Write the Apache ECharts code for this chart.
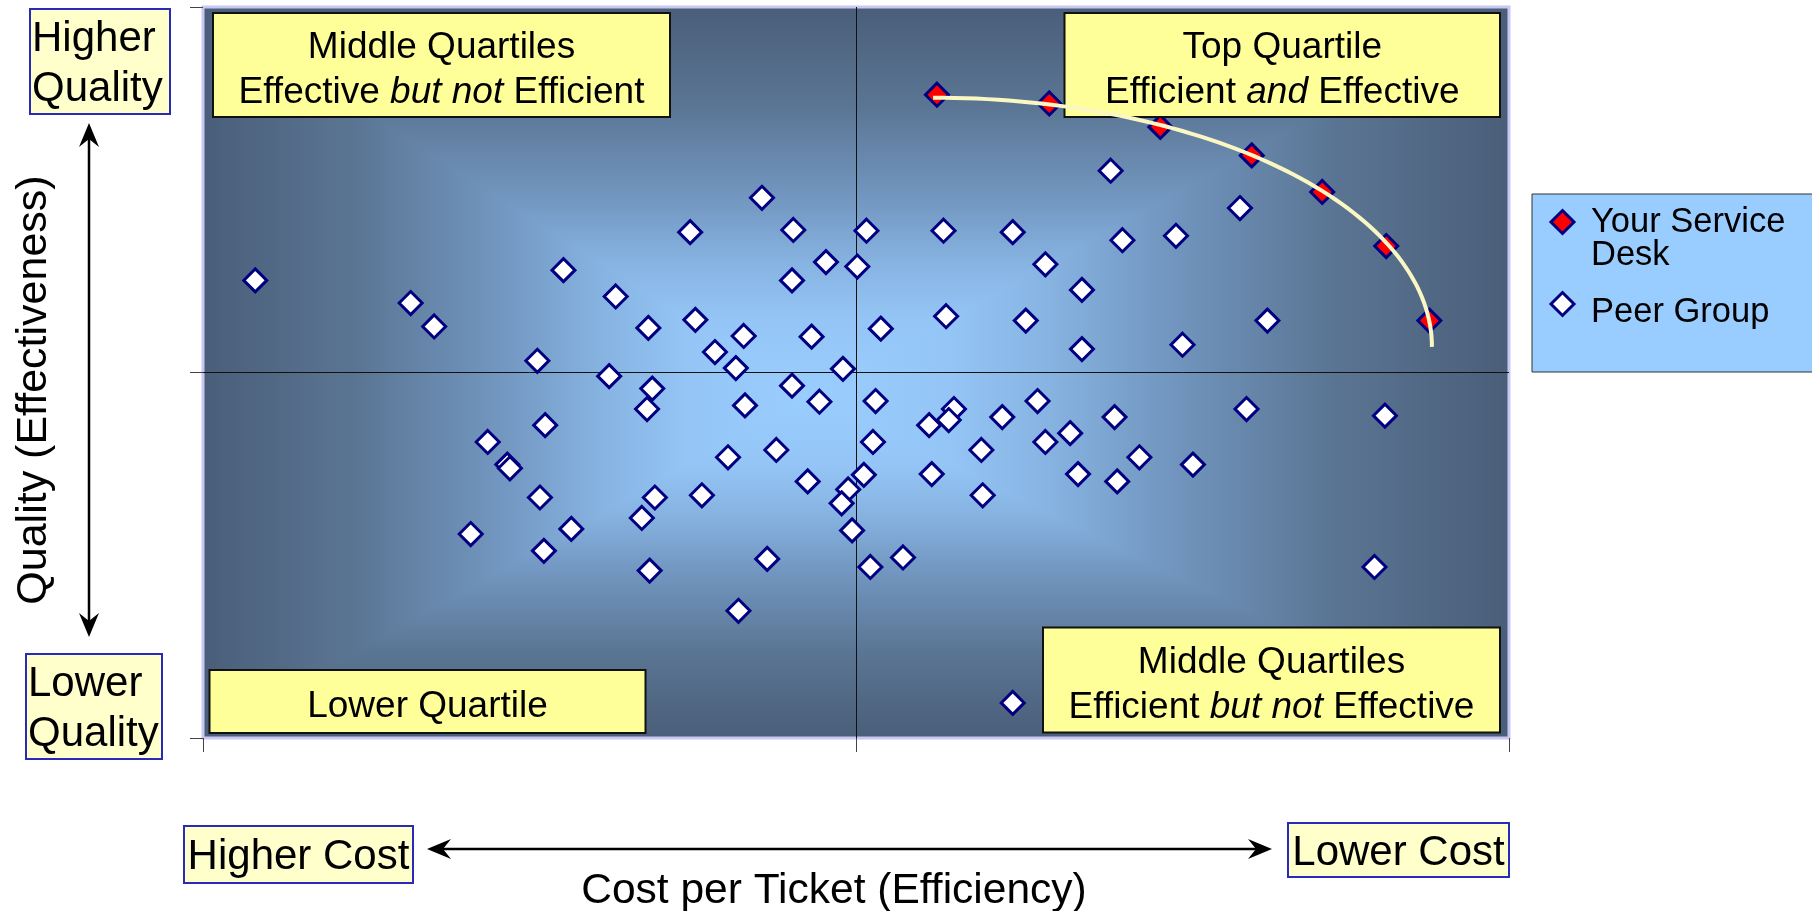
<!DOCTYPE html>
<html>
<head>
<meta charset="utf-8">
<title>Service Desk Benchmark: Cost vs Quality</title>
<script src="https://cdn.jsdelivr.net/npm/echarts@6/dist/echarts.min.js"></script>
<style>
  html, body { margin: 0; padding: 0; background: #ffffff; }
  #chart { width: 1812px; height: 911px; }
</style>
</head>
<body>
<div id="chart"></div>
<script>
// Cost per ticket (efficiency, 0 = higher cost .. 100 = lower cost) and
// quality (effectiveness, 0 = lower .. 100 = higher) for each service desk.
const peerX = [4.0, 15.9, 17.7, 27.6, 31.6, 25.6, 31.1, 26.2, 21.8, 23.3, 23.5, 25.8, 20.5, 28.2, 26.1,
  37.3, 34.1, 34.4, 34.0, 33.6, 34.6, 34.2, 37.7, 39.2, 40.8, 41.4, 41.5, 40.2, 38.2,
  42.8, 45.2, 45.1, 47.7, 46.6, 45.1, 47.2, 43.9, 46.3, 43.2, 41.0,
  49.0, 50.1, 50.8, 51.9, 51.5, 51.3, 50.6, 49.4, 48.9, 49.7, 51.1, 53.6,
  56.7, 56.9, 55.6, 57.5, 57.1, 55.8, 59.6, 59.7, 61.2, 62.0, 63.0, 63.9, 64.5, 64.5,
  66.4, 67.3, 67.3, 67.0, 69.5, 70.4, 74.5, 69.8, 71.7, 70.0, 75.0, 75.8,
  79.4, 81.5, 79.9, 90.5, 89.7, 62.0];
const peerY = [62.6, 59.5, 56.3, 64.0, 60.4, 51.6, 49.5, 42.8, 40.5, 37.4, 36.9, 32.9, 27.9, 28.6, 25.6,
  69.2, 56.1, 47.8, 45.0, 30.1, 32.9, 22.9, 57.2, 52.8, 50.6, 55.0, 45.5, 38.4, 33.2,
  73.9, 69.5, 62.6, 65.1, 54.9, 48.2, 46.0, 39.4, 35.1, 24.5, 17.4,
  50.5, 64.5, 69.4, 56.0, 46.1, 40.5, 36.0, 34.0, 32.1, 28.4, 23.4, 24.7,
  69.4, 57.7, 42.8, 45.0, 43.5, 36.1, 39.4, 33.2, 43.9, 69.2, 57.1, 46.1, 64.8, 40.5,
  41.7, 61.3, 53.2, 36.1, 77.6, 68.1, 68.7, 43.9, 38.4, 35.1, 53.8, 37.4,
  72.5, 57.1, 45.0, 44.1, 23.4, 4.8];

// "Your Service Desk" results over successive periods
const deskX = [56.2, 64.8, 73.3, 80.3, 85.7, 90.6, 93.9];
const deskY = [88.0, 86.8, 83.6, 79.7, 74.7, 67.3, 57.1];

// Frontier arc: starts level at the top, ends vertical on the right
const arcStart = [55.9, 87.6];
const arcEnd = [94.1, 53.5];

// Quartile split positions on both axes
const axisMin = 0, axisMax = 100, axisStep = 50;

const seriesNames = ['Your Service Desk', 'Peer Group'];

const F = "'Liberation Sans', Arial, Helvetica, sans-serif";

// Grid geometry in pixels
const G = { left: 203, top: 7, width: 1306, height: 731 };

// Rectangular "from centre" gradient for the plot background
function makeBackdrop(w, h, cx, cy) {
  const c = document.createElement('canvas');
  c.width = w; c.height = h;
  const g = c.getContext('2d');
  const stops = [[0, '#4a5e79'], [0.25, '#5a7593'], [0.5, '#7398c2'], [0.65, '#86b2e0'], [0.8, '#94c5f6'], [1, '#9acdff']];
  function grad(x0, y0, x1, y1) {
    const lg = g.createLinearGradient(x0, y0, x1, y1);
    stops.forEach(s => lg.addColorStop(s[0], s[1]));
    return lg;
  }
  g.fillStyle = grad(0, 0, cx, 0);
  g.fillRect(0, 0, cx + 1, h);
  g.fillStyle = grad(w, 0, cx, 0);
  g.fillRect(cx, 0, w - cx, h);
  g.fillStyle = grad(0, 0, 0, cy);
  g.beginPath(); g.moveTo(0, 0); g.lineTo(w, 0); g.lineTo(cx, cy); g.closePath(); g.fill();
  g.fillStyle = grad(0, h, 0, cy);
  g.beginPath(); g.moveTo(0, h); g.lineTo(w, h); g.lineTo(cx, cy); g.closePath(); g.fill();
  return c;
}

function arrowHead(tx, ty, dx, dy) {
  // barbed head with its tip at (tx, ty), pointing along (dx, dy)
  const L = 24, W = 10, N = 16;
  const px = -dy, py = dx;
  return {
    type: 'polygon', z: 7, silent: true,
    shape: { points: [
      [tx, ty],
      [tx - dx * L + px * W, ty - dy * L + py * W],
      [tx - dx * N, ty - dy * N],
      [tx - dx * L - px * W, ty - dy * L - py * W]
    ] },
    style: { fill: '#000' }
  };
}

const richBox = {
  n: { fontSize: 37, fontFamily: F, lineHeight: 45, fill: '#000' },
  i: { fontSize: 37, fontFamily: F, fontStyle: 'italic', lineHeight: 45, fill: '#000' }
};

function quadBox(x, y, w, h, text) {
  return [
    { type: 'rect', z: 5, silent: true, shape: { x: x, y: y, width: w, height: h },
      style: { fill: '#ffff99', stroke: '#111', lineWidth: 2 } },
    { type: 'text', z: 6, silent: true, x: x + w / 2, y: y + h / 2 + 5.5,
      style: { text: text, align: 'center', verticalAlign: 'middle', fill: '#000',
        fontSize: 37, fontFamily: F, lineHeight: 45, rich: richBox } }
  ];
}

function sideBox(x, y, w, h, text, align) {
  return [
    { type: 'rect', z: 5, silent: true, shape: { x: x, y: y, width: w, height: h },
      style: { fill: '#ffffcc', stroke: '#2a2ab8', lineWidth: 2 } },
    { type: 'text', z: 6, silent: true,
      x: align === 'left' ? x + 2 : x + w / 2, y: y + h / 2 + 3,
      style: { text: text, align: align, verticalAlign: 'middle', fill: '#000',
        fontSize: 42, fontFamily: F, lineHeight: 50 } }
  ];
}

const backdrop = makeBackdrop(G.width, G.height, 607, 390);

const graphics = [
  { type: 'image', z: -10, silent: true,
    style: { image: backdrop, x: G.left, y: G.top, width: G.width, height: G.height } },
  ...quadBox(213, 13, 457, 104, '{n|Middle Quartiles}\n{n|Effective }{i|but not}{n| Efficient}'),
  ...quadBox(1064.5, 13, 435.5, 104, '{n|Top Quartile}\n{n|Efficient }{i|and}{n| Effective}'),
  ...quadBox(209.5, 670, 436, 63, '{n|Lower Quartile}'),
  ...quadBox(1043, 627.5, 457, 105, '{n|Middle Quartiles}\n{n|Efficient }{i|but not}{n| Effective}'),
  ...sideBox(30, 9, 140, 105, 'Higher\nQuality', 'left'),
  ...sideBox(26, 654, 136, 105, 'Lower\nQuality', 'left'),
  ...sideBox(184, 826, 229, 57, 'Higher Cost', 'center'),
  ...sideBox(1288, 823, 221, 54, 'Lower Cost', 'center'),
  // quality axis arrow
  { type: 'line', z: 7, silent: true, shape: { x1: 89, y1: 135, x2: 89, y2: 625 },
    style: { stroke: '#000', lineWidth: 2.5 } },
  arrowHead(89, 123, 0, -1),
  arrowHead(89, 637, 0, 1),
  // cost axis arrow
  { type: 'line', z: 7, silent: true, shape: { x1: 439, y1: 849, x2: 1260, y2: 849 },
    style: { stroke: '#000', lineWidth: 2.5 } },
  arrowHead(427, 849, -1, 0),
  arrowHead(1272, 849, 1, 0),
  { type: 'text', z: 6, silent: true, x: 34, y: 390, rotation: Math.PI / 2,
    style: { text: 'Quality (Effectiveness)', align: 'center', verticalAlign: 'middle',
      fill: '#000', fontSize: 43, fontFamily: F } },
  { type: 'text', z: 6, silent: true, x: 834, y: 891,
    style: { text: 'Cost per Ticket (Efficiency)', align: 'center', verticalAlign: 'middle',
      fill: '#000', fontSize: 42.5, fontFamily: F } },
  // legend panel
  { type: 'rect', z: 1, silent: true, shape: { x: 1532, y: 194, width: 290, height: 178 },
    style: { fill: '#99ccff', stroke: '#333', lineWidth: 1 } }
];

function axisCfg(tickLen) {
  return {
    type: 'value', min: axisMin, max: axisMax, interval: axisStep,
    axisLine: { show: false },
    axisTick: { show: true, length: tickLen, lineStyle: { color: '#444', width: 1 } },
    axisLabel: { show: false },
    splitLine: { show: true, showMinLine: false, showMaxLine: false,
      lineStyle: { color: '#111', width: 1 } }
  };
}

const chart = echarts.init(document.getElementById('chart'), null, { renderer: 'canvas' });

chart.setOption({
  animation: false,
  backgroundColor: '#ffffff',
  grid: { left: G.left, top: G.top, width: G.width, height: G.height,
    show: true, backgroundColor: 'transparent', borderColor: '#c8c8f0', borderWidth: 3 },
  xAxis: axisCfg(14),
  yAxis: axisCfg(13),
  legend: {
    orient: 'vertical', left: 1549.5, top: 171.5, padding: 0,
    itemWidth: 23, itemHeight: 23, itemGap: 2.5,
    selectedMode: false, z: 10,
    data: seriesNames,
    formatter: function (name) {
      return name === seriesNames[0] ? '\n{q|Your Service}\n{d|Desk}' : '{p|' + name + '}';
    },
    textStyle: {
      fontSize: 34.5, lineHeight: 33, fontFamily: F, color: '#000', padding: [0, 0, 0, 12],
      rich: {
        q: { fontSize: 34.5, lineHeight: 33, fontFamily: F, color: '#000' },
        d: { fontSize: 34.5, lineHeight: 33, fontFamily: F, color: '#000', padding: [3.5, 0, 3.5, 0] },
        p: { fontSize: 34.5, lineHeight: 33, fontFamily: F, color: '#000', padding: [16, 0, 0, 0] }
      }
    },
    itemStyle: { borderWidth: 3 }
  },
  graphic: { elements: graphics },
  series: [
    {
      type: 'scatter', name: seriesNames[1], z: 3,
      data: peerX.map((x, i) => [x, peerY[i]]),
      symbol: 'diamond', symbolSize: 23,
      itemStyle: { color: '#ffffff', borderColor: '#000080', borderWidth: 3, opacity: 1 }
    },
    {
      type: 'scatter', name: seriesNames[0], z: 4,
      data: deskX.map((x, i) => [x, deskY[i]]),
      symbol: 'diamond', symbolSize: 23,
      itemStyle: { color: '#ff0000', borderColor: '#000080', borderWidth: 3, opacity: 1 }
    },
    {
      type: 'custom', name: 'Frontier', z: 8, silent: true, clip: false,
      data: [[arcStart[0], arcStart[1], arcEnd[0], arcEnd[1]]],
      renderItem: function (params, api) {
        const p0 = api.coord([api.value(0), api.value(1)]);
        const p1 = api.coord([api.value(2), api.value(3)]);
        const cx = p0[0], cy = p1[1];
        const rx = p1[0] - p0[0], ry = p1[1] - p0[1];
        const pts = [];
        for (let k = 0; k <= 72; k++) {
          const t = (Math.PI / 2) * (1 - k / 72);
          pts.push([cx + rx * Math.cos(t), cy - ry * Math.sin(t)]);
        }
        return { type: 'polyline', shape: { points: pts },
          style: { stroke: '#fbf7c2', lineWidth: 4, fill: null } };
      }
    }
  ]
});
</script>
</body>
</html>
